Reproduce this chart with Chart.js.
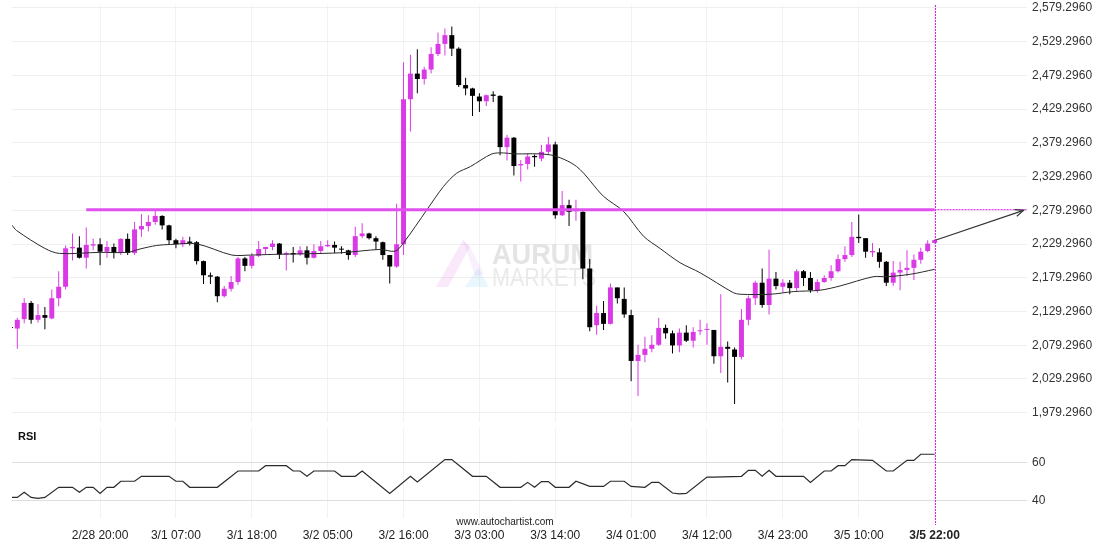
<!DOCTYPE html>
<html>
<head>
<meta charset="utf-8">
<script src="https://cdn.jsdelivr.net/npm/chart.js@4.4.0/dist/chart.umd.min.js"></script>
<style>
  html, body { margin: 0; padding: 0; background: #fff; }
  #wrap { position: relative; width: 1110px; height: 550px; overflow: hidden; font-family: "Liberation Sans", Arial, sans-serif; }
  #mainChart { position: absolute; left: 0; top: 0; }
  #rsiChart { position: absolute; left: 0; top: 422px; }
  .rsi-title { position: absolute; left: 18px; top: 430px; font-size: 11px; font-weight: bold; color: #111; }
  .credit { position: absolute; left: 0; width: 1010px; top: 516px; text-align: center; font-size: 10px; color: #222; }
</style>
</head>
<body>
<div id="wrap">
  <canvas id="mainChart" width="1110" height="422"></canvas>
  <canvas id="rsiChart" width="1110" height="128"></canvas>
  <div class="rsi-title">RSI</div>
  <div class="credit">www.autochartist.com</div>
</div>
<script>
// hourly candles, index 0..134
const openP = [
  2106.5, 2104, 2118, 2142, 2117, 2124, 2119, 2149, 2166, 2223,
  2224, 2209, 2227, 2229, 2218, 2225, 2216, 2237, 2216, 2251,
  2256, 2262, 2271, 2257, 2235, 2229, 2233, 2232, 2204, 2183,
  2181, 2152, 2163, 2173, 2208, 2197, 2212, 2222, 2225, 2230,
  2214, 2216, 2214, 2220, 2209, 2219, 2226, 2228, 2222, 2220,
  2213, 2241, 2245, 2238, 2232, 2213, 2196, 2229, 2444, 2482,
  2474, 2488, 2511, 2526, 2539, 2519, 2465, 2460, 2448, 2441,
  2451, 2449, 2373, 2387, 2346, 2348, 2360, 2356, 2366, 2377,
  2272, 2287, 2278, 2277, 2193, 2109, 2127, 2111, 2165, 2148,
  2124, 2056, 2065, 2074, 2080, 2105, 2097, 2079, 2098, 2086,
  2100, 2102, 2102, 2063, 2077, 2073, 2062, 2117, 2149, 2172,
  2139, 2178, 2166, 2172, 2164, 2189, 2179, 2161, 2173, 2179,
  2189, 2207, 2213, 2240, 2238, 2217, 2217, 2203, 2172, 2187,
  2191, 2194, 2206, 2219, 2231
];
const highP = [
  2107.5, 2120, 2149, 2145, 2140, 2136, 2162, 2189, 2227, 2245,
  2241, 2254, 2237, 2238, 2234, 2230, 2238, 2245, 2262, 2274,
  2272, 2280, 2272, 2258, 2237, 2240, 2240, 2234, 2205, 2187,
  2182, 2167, 2182, 2210, 2210, 2216, 2234, 2225, 2235, 2231,
  2218, 2225, 2226, 2226, 2229, 2234, 2235, 2233, 2226, 2221,
  2255, 2260, 2246, 2241, 2233, 2213, 2289, 2499, 2510, 2518,
  2492, 2521, 2543, 2549, 2552, 2521, 2476, 2461, 2453, 2451,
  2456, 2450, 2391, 2388, 2354, 2364, 2362, 2376, 2388, 2381,
  2308, 2295, 2295, 2278, 2207, 2138, 2145, 2171, 2165, 2165,
  2132, 2080, 2092, 2094, 2120, 2110, 2101, 2104, 2109, 2106,
  2117, 2112, 2102, 2155, 2085, 2076, 2133, 2153, 2175, 2193,
  2221, 2188, 2177, 2176, 2192, 2191, 2188, 2177, 2183, 2198,
  2214, 2226, 2262, 2273, 2238, 2231, 2223, 2204, 2204, 2203,
  2220, 2214, 2224, 2235, 2236
];
const lowP = [
  2104, 2074, 2112, 2111, 2113, 2103, 2118, 2137, 2162, 2205,
  2208, 2193, 2220, 2198, 2209, 2208, 2213, 2213, 2213, 2240,
  2248, 2258, 2251, 2229, 2223, 2225, 2227, 2199, 2170, 2170,
  2143, 2150, 2159, 2169, 2189, 2193, 2210, 2214, 2220, 2207,
  2190, 2202, 2212, 2199, 2208, 2216, 2225, 2216, 2215, 2206,
  2210, 2238, 2236, 2221, 2206, 2171, 2194, 2213, 2396, 2453,
  2466, 2482, 2508, 2509, 2508, 2462, 2450, 2419, 2425, 2434,
  2440, 2361, 2353, 2331, 2322, 2340, 2344, 2352, 2362, 2267,
  2271, 2256, 2264, 2177, 2100, 2095, 2102, 2110, 2141, 2120,
  2026, 2004, 2054, 2069, 2078, 2089, 2067, 2069, 2084, 2076,
  2095, 2080, 2052, 2038, 2024, 1992, 2058, 2109, 2139, 2135,
  2125, 2162, 2158, 2155, 2160, 2167, 2157, 2157, 2172, 2175,
  2187, 2203, 2210, 2231, 2209, 2210, 2194, 2167, 2167, 2161,
  2182, 2176, 2200, 2217, 2230
];
const closeP = [
  2105, 2117, 2142, 2117, 2124, 2120, 2149, 2166, 2223, 2225,
  2209, 2228, 2229, 2218, 2225, 2216, 2237, 2216, 2251, 2256,
  2262, 2271, 2257, 2235, 2229, 2235, 2231, 2204, 2183, 2181,
  2152, 2163, 2173, 2208, 2197, 2212, 2222, 2225, 2230, 2214,
  2216, 2214, 2220, 2209, 2219, 2226, 2228, 2224, 2221, 2213,
  2241, 2245, 2238, 2233, 2213, 2196, 2229, 2444, 2482, 2474,
  2488, 2511, 2526, 2539, 2519, 2465, 2460, 2449, 2441, 2450,
  2449, 2373, 2387, 2345, 2348, 2359, 2358, 2366, 2377, 2272,
  2287, 2277, 2280, 2193, 2106, 2127, 2111, 2165, 2149, 2125,
  2056, 2065, 2074, 2080, 2105, 2097, 2079, 2098, 2086, 2099,
  2101, 2103, 2063, 2077, 2074, 2062, 2117, 2149, 2172, 2139,
  2178, 2167, 2172, 2164, 2189, 2179, 2161, 2173, 2179, 2189,
  2207, 2213, 2240, 2238, 2218, 2219, 2203, 2172, 2187, 2191,
  2194, 2206, 2218, 2230, 2235
];

// moving average, read at these candle positions
const maIndex = [0.23, 0.9, 5, 7.1, 13, 17, 18.8, 21.2, 23.2, 27, 32.1, 34.8, 38.1, 47.8, 53.6, 55.8, 57, 60.4, 62.8, 64.7, 66.7, 69.8, 71.5, 73, 78.3, 82.1, 86, 88.9, 91.8, 94.2, 97.1, 100, 104.8, 105.8, 110.2, 113.5, 117.4, 120.3, 125.1, 127.1, 130.5, 134];
const maValue = [2257.2, 2249.3, 2222.8, 2215.4, 2217, 2217, 2222, 2227.2, 2228.7, 2229.6, 2213, 2213, 2214, 2216.3, 2221.3, 2218.8, 2231, 2280.3, 2314.7, 2334.3, 2344.2, 2362.9, 2364.4, 2363, 2361.5, 2344.2, 2300, 2277.8, 2240.9, 2222.8, 2201.6, 2186.8, 2157.3, 2154.9, 2154.9, 2158.8, 2160.9, 2167.2, 2180.9, 2180.9, 2184.5, 2191.8];

// RSI turning points
const rsiIndex = [0.23, 1, 2, 3, 4, 5, 7, 9, 10, 11, 12, 13, 14, 15, 16, 18, 19, 23, 24, 25, 26, 30, 33, 36, 37, 40, 41, 42, 43, 44, 47, 48, 50, 51, 55, 58, 59, 63, 64, 67, 69, 71, 74, 75, 76, 77, 78, 79, 81, 82, 84, 86, 87, 89, 90, 92, 93, 94, 96, 97, 98, 101, 102, 106, 107, 108, 109, 110, 111, 115, 116, 118, 119, 120, 121, 122, 125, 127, 128, 130, 131, 132, 134];
const rsiValue = [41.9, 41.9, 44.6, 41.9, 41.4, 41.9, 47.2, 47.2, 44.6, 47.2, 47.2, 44.0, 47.2, 47.2, 50.4, 50.4, 53.0, 53.0, 50.4, 50.4, 47.2, 47.2, 55.8, 55.8, 58.6, 58.6, 55.8, 55.8, 53.0, 55.8, 55.8, 53.0, 53.0, 55.8, 44.0, 53.0, 50.0, 61.8, 61.8, 53.0, 53.0, 47.2, 47.2, 49.8, 47.2, 50.2, 50.2, 47.2, 47.2, 50.4, 47.7, 47.7, 50.4, 50.4, 47.7, 47.2, 49.8, 49.8, 44.2, 43.7, 44.0, 52.6, 52.6, 53.0, 56.1, 56.1, 53.0, 56.1, 53.0, 53.0, 49.8, 55.8, 55.8, 58.6, 58.6, 61.8, 61.4, 55.8, 55.8, 61.4, 61.4, 64.6, 64.6];

const timeLabels = ['2/28 20:00', '3/1 07:00', '3/1 18:00', '3/2 05:00', '3/2 16:00', '3/3 03:00', '3/3 14:00', '3/4 01:00', '3/4 12:00', '3/4 23:00', '3/5 10:00', '3/5 22:00'];
const labelIndex = [13, 24, 35, 46, 57, 68, 79, 90, 101, 112, 123, 134];
const priceTicks = [1979.296, 2029.296, 2079.296, 2129.296, 2179.296, 2229.296, 2279.296, 2329.296, 2379.296, 2429.296, 2479.296, 2529.296, 2579.296];
const rsiTicks = [40, 60];

const levelPrice = 2280.3;   // breakout level
const levelStart = 11;
const lastIndex = 134;
const arrowFrom = { x: 134, y: 2234.6 };
const arrowTo = { x: 146.9, y: 2279.3 };

const FONT = '"Liberation Sans", Arial, sans-serif';
const BULL = '#DA3AE6';
const BEAR = '#000000';
const PINK = '#E11EF0';

const candleColors = closeP.map((c, i) => c > openP[i] ? BULL : BEAR);
const bodies = openP.map((o, i) => ({ x: i, y: [o, closeP[i]] }));
const wicks = highP.map((h, i) => ({ x: i, y: [lowP[i], h] }));

function xScale(showLabels) {
    return {
        type: 'linear',
        min: 0.23,
        max: 147.4,
        offset: false,
        afterBuildTicks: s => { s.ticks = labelIndex.map(v => ({ value: v })); },
        grid: { color: '#f2f2f2', drawTicks: false, offset: false },
        border: { display: false },
        ticks: {
            display: showLabels,
            autoSkip: false,
            maxRotation: 0,
            padding: 10,
            color: '#222',
            font: ctx => ({ family: FONT, size: 12, weight: ctx.tick && ctx.tick.value === lastIndex ? 'bold' : 'normal' }),
            callback: v => timeLabels[labelIndex.indexOf(v)] || ''
        },
        afterFit: s => {
            s.height = showLabels ? 32 : 0;
            s.paddingLeft = 0;
            s.paddingRight = 0;
        }
    };
}

function rightAxisFit(s) {
    s.width = 83;
    s.paddingTop = 0;
    s.paddingBottom = 0;
}

// dashed vertical marker at the last candle
const nowLine = {
    id: 'nowLine',
    afterDatasetsDraw(chart, args, opts) {
        const { ctx, chartArea, scales } = chart;
        const x = Math.round(scales.x.getPixelForValue(lastIndex)) + 0.5;
        ctx.save();
        ctx.strokeStyle = PINK;
        ctx.lineWidth = 1;
        ctx.setLineDash([2, 1]);
        ctx.beginPath();
        ctx.moveTo(x, chartArea.top - (opts.up || 0));
        ctx.lineTo(x, chartArea.bottom + (opts.extend || 0));
        ctx.stroke();
        ctx.restore();
    }
};

const arrowHead = {
    id: 'arrowHead',
    afterDatasetsDraw(chart) {
        const { ctx, scales } = chart;
        const x1 = scales.x.getPixelForValue(arrowFrom.x), y1 = scales.y.getPixelForValue(arrowFrom.y);
        const x2 = scales.x.getPixelForValue(arrowTo.x), y2 = scales.y.getPixelForValue(arrowTo.y);
        const a = Math.atan2(y2 - y1, x2 - x1);
        ctx.save();
        ctx.strokeStyle = '#333';
        ctx.lineWidth = 1.2;
        ctx.beginPath();
        ctx.moveTo(x2 - 9 * Math.cos(a - 0.4), y2 - 9 * Math.sin(a - 0.4));
        ctx.lineTo(x2, y2);
        ctx.lineTo(x2 - 9 * Math.cos(a + 0.4), y2 - 9 * Math.sin(a + 0.4));
        ctx.stroke();
        ctx.restore();
    }
};

const watermark = {
    id: 'watermark',
    beforeDatasetsDraw(chart) {
        const ctx = chart.ctx;
        ctx.save();
        ctx.fillStyle = 'rgba(220, 120, 230, 0.16)';
        ctx.beginPath();
        ctx.moveTo(436, 287); ctx.lineTo(448, 287); ctx.lineTo(470, 247); ctx.lineTo(463, 240);
        ctx.closePath(); ctx.fill();
        ctx.fillStyle = 'rgba(200, 130, 230, 0.12)';
        ctx.beginPath();
        ctx.moveTo(463, 240); ctx.lineTo(470, 247); ctx.lineTo(484, 274); ctx.lineTo(475, 276);
        ctx.closePath(); ctx.fill();
        ctx.fillStyle = 'rgba(120, 200, 240, 0.16)';
        ctx.beginPath();
        ctx.moveTo(465, 287); ctx.lineTo(489, 287); ctx.lineTo(478, 268);
        ctx.closePath(); ctx.fill();
        ctx.textBaseline = 'alphabetic';
        ctx.fillStyle = '#e4e4e4';
        ctx.font = 'bold 29px ' + FONT;
        ctx.fillText('AURUM', 492, 264, 101);
        ctx.fillStyle = '#eaeaea';
        ctx.font = '26px ' + FONT;
        ctx.fillText('MARKETS', 492, 286, 104);
        ctx.restore();
    }
};

new Chart(document.getElementById('mainChart'), {
    type: 'bar',
    data: {
        datasets: [
            {
                type: 'line',
                data: [{ x: levelStart, y: levelPrice }, { x: lastIndex, y: levelPrice }],
                borderColor: '#E050EE',
                borderWidth: 3,
                pointRadius: 0
            },
            {
                type: 'line',
                data: [{ x: lastIndex, y: levelPrice }, { x: 147.4, y: levelPrice }],
                borderColor: PINK,
                borderWidth: 1,
                borderDash: [2, 1],
                pointRadius: 0
            },
            {
                type: 'line',
                data: [arrowFrom, arrowTo],
                borderColor: '#333',
                borderWidth: 1.2,
                pointRadius: 0
            },
            {
                type: 'line',
                data: maIndex.map((x, i) => ({ x: x, y: maValue[i] })),
                borderColor: '#2a2a2a',
                borderWidth: 1,
                pointRadius: 0,
                tension: 0.3
            },
            {
                data: bodies,
                backgroundColor: candleColors,
                grouped: false,
                maxBarThickness: 5,
                minBarLength: 1,
                borderWidth: 0
            },
            {
                data: wicks,
                backgroundColor: candleColors,
                grouped: false,
                maxBarThickness: 1,
                borderWidth: 0
            }
        ]
    },
    options: {
        responsive: false,
        animation: false,
        events: [],
        layout: { padding: { top: 5, left: 12, right: 0, bottom: 0 } },
        plugins: { legend: { display: false }, tooltip: { enabled: false }, nowLine: { extend: 0 } },
        scales: {
            x: xScale(false),
            y: {
                position: 'right',
                min: 1965.5,
                max: 2583.7,
                afterBuildTicks: s => { s.ticks = priceTicks.map(v => ({ value: v })); },
                grid: { color: '#efefef', drawTicks: false },
                border: { display: false },
                ticks: {
                    padding: 5,
                    color: '#333',
                    font: { family: FONT, size: 12 },
                    callback: v => v.toLocaleString('en-US', { minimumFractionDigits: 4, maximumFractionDigits: 4 })
                },
                afterFit: rightAxisFit
            }
        }
    },
    plugins: [watermark, nowLine, arrowHead]
});

new Chart(document.getElementById('rsiChart'), {
    type: 'line',
    data: {
        datasets: [{
            data: rsiIndex.map((x, i) => ({ x: x, y: rsiValue[i] })),
            borderColor: '#2a2a2a',
            borderWidth: 1.2,
            pointRadius: 0,
            tension: 0
        }]
    },
    options: {
        responsive: false,
        animation: false,
        events: [],
        layout: { padding: { top: 6, left: 12, right: 0, bottom: 0 } },
        plugins: { legend: { display: false }, tooltip: { enabled: false }, nowLine: { extend: 7, up: 6 } },
        scales: {
            x: xScale(true),
            y: {
                position: 'right',
                min: 31.05,
                max: 78.42,
                afterBuildTicks: s => { s.ticks = rsiTicks.map(v => ({ value: v })); },
                grid: { color: '#dedede', drawTicks: false },
                border: { display: false },
                ticks: { padding: 5, color: '#333', font: { family: FONT, size: 12 } },
                afterFit: rightAxisFit
            }
        }
    },
    plugins: [nowLine]
});
</script>
</body>
</html>
